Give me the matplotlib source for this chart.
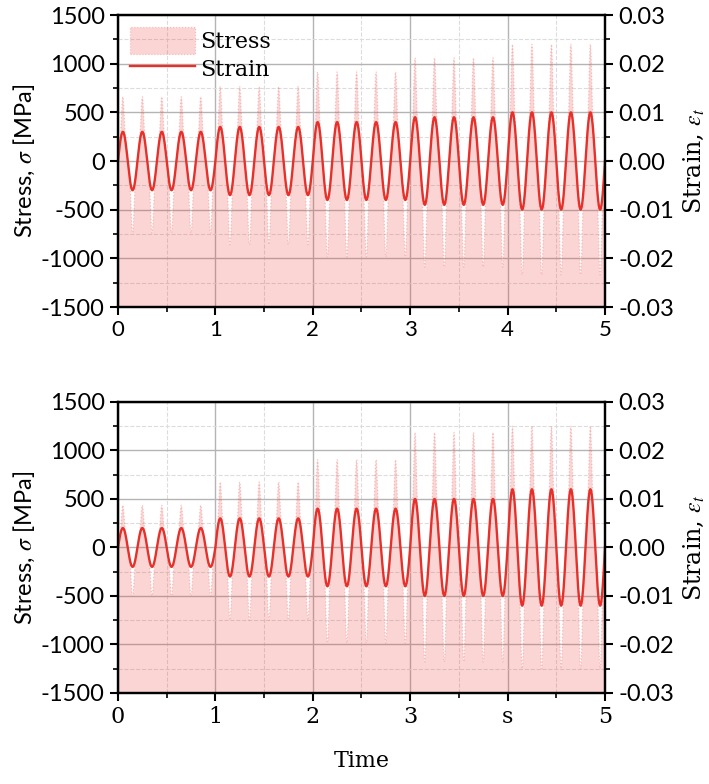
import numpy as np
import matplotlib
matplotlib.use("Agg")
import matplotlib.pyplot as plt
from matplotlib.ticker import MultipleLocator

plt.rcParams['mathtext.fontset'] = 'stix'

SANS = 'Lato'
SERIF = 'DejaVu Serif'

# load blocks, one per second, 5 cycles per second
block_edges = [0, 1, 2, 3, 4, 5]
freq = 5.0

# top panel
top_strain_amp = [0.006, 0.007, 0.008, 0.009, 0.010]
top_stress_peak = [660, 765, 915, 1060, 1200]
top_stress_trough = [-740, -860, -985, -1090, -1170]

# bottom panel
bot_strain_amp = [0.004, 0.006, 0.008, 0.010, 0.012]
bot_stress_peak = [435, 675, 905, 1185, 1250]
bot_stress_trough = [-500, -750, -985, -1180, -1250]

top_xticklabels = ['0', '1', '2', '3', '4', '5']
bot_xticklabels = ['0', '1', '2', '3', 's', '5']

E_scale = 50000.0   # stress axis / strain axis ratio
sharp = 6           # peak sharpness of the stress response

t = np.linspace(0, 5, 20001)


def build_signals(amps, peaks, troughs):
    idx = np.clip(np.searchsorted(block_edges, t, side='right') - 1, 0, len(amps) - 1)
    s = np.sin(2 * np.pi * freq * t)
    amp = np.array(amps)[idx]
    strain = amp * s
    base = E_scale * strain
    up = np.array(peaks)[idx] - E_scale * amp
    dn = np.array(troughs)[idx] + E_scale * amp
    spike = np.where(s > 0, up, dn) * np.abs(s) ** sharp
    return strain, base + spike


fig = plt.figure(figsize=(7.09, 7.84), dpi=100)
ax1 = fig.add_axes([0.1664, 0.6084, 0.6869, 0.3724])
ax2 = fig.add_axes([0.1664, 0.1161, 0.6869, 0.3712])

panels = [
    (ax1, top_strain_amp, top_stress_peak, top_stress_trough, top_xticklabels, SANS),
    (ax2, bot_strain_amp, bot_stress_peak, bot_stress_trough, bot_xticklabels, SERIF),
]

for i, (ax, amps, pk, tr, xlabs, xfont) in enumerate(panels):
    strain, stress = build_signals(amps, pk, tr)
    fill = ax.fill_between(t, stress, -1500, facecolor=(0.91, 0.19, 0.16, 0.2),
                           edgecolor=(0.94, 0.45, 0.45, 0.4), linestyle=':',
                           linewidth=0.9, label='Stress')
    ax.set_xlim(0, 5)
    ax.set_ylim(-1500, 1500)
    ax.set_axisbelow(True)
    ax.xaxis.set_major_locator(MultipleLocator(1))
    ax.xaxis.set_minor_locator(MultipleLocator(0.5))
    ax.yaxis.set_major_locator(MultipleLocator(500))
    ax.yaxis.set_minor_locator(MultipleLocator(250))
    ax.grid(which='major', color='#b4b4b4', linewidth=1.0, linestyle='-')
    ax.grid(which='minor', color='#dcdcdc', linewidth=0.8, linestyle='--')
    ax.set_xticks(range(6))
    ax.set_xticklabels(xlabs, fontfamily=xfont, fontsize=16)
    ax.set_yticks([-1500, -1000, -500, 0, 500, 1000, 1500])
    ax.set_yticklabels(['-1500', '-1000', '-500', '0', '500', '1000', '1500'],
                       fontfamily=SANS, fontsize=17)
    ax.tick_params(which='major', direction='out', length=6, width=1.5)
    ax.tick_params(which='minor', direction='out', length=3.5, width=1.2)
    ax.set_ylabel(r'Stress, $\sigma$ [MPa]', fontfamily=SANS, fontsize=17, labelpad=3)
    for sp in ax.spines.values():
        sp.set_linewidth(1.6)

    axr = ax.twinx()
    line, = axr.plot(t, strain, color='#e8302a', linewidth=1.7, label='Strain')
    axr.set_ylim(-0.03, 0.03)
    axr.yaxis.set_major_locator(MultipleLocator(0.01))
    axr.yaxis.set_minor_locator(MultipleLocator(0.005))
    axr.set_yticks([-0.03, -0.02, -0.01, 0, 0.01, 0.02, 0.03])
    axr.set_yticklabels(['-0.03', '-0.02', '-0.01', '0.00', '0.01', '0.02', '0.03'],
                        fontfamily=SANS, fontsize=17)
    axr.tick_params(which='major', direction='out', length=6, width=1.5)
    axr.tick_params(which='minor', direction='out', length=3.5, width=1.2)
    axr.set_ylabel(r'Strain, $\varepsilon_t$', fontfamily=SERIF, fontsize=17,
                   rotation=90, labelpad=5)
    for sp in axr.spines.values():
        sp.set_linewidth(1.6)

    if i == 0:
        axr.legend([fill, line], ['Stress', 'Strain'], loc='upper left',
                   frameon=False, prop={'family': SERIF, 'size': 16},
                   handlelength=2.9, handleheight=1.45, borderaxespad=0.15,
                   labelspacing=0.1, handletextpad=0.25)

ax2.set_xlabel('Time', fontfamily=SERIF, fontsize=16, labelpad=16)

fig.savefig('out.png', dpi=100)
